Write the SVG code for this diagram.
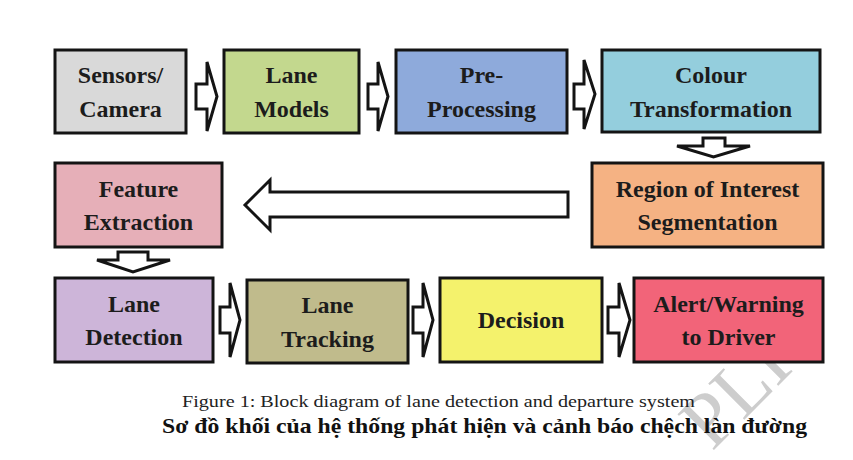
<svg xmlns="http://www.w3.org/2000/svg" width="853" height="460" viewBox="0 0 853 460">
<style>
.box{stroke:#141414;stroke-width:3}
.lbl{font-family:"Liberation Serif","DejaVu Serif","Times New Roman",serif;font-weight:bold;font-size:24px;fill:#1c1c1c;text-anchor:middle}
.arr{fill:#ffffff;stroke:#141414;stroke-width:3;stroke-linejoin:miter}
.cap{font-family:"Liberation Serif","DejaVu Serif",serif;font-size:16px;fill:#222}
.vn{font-family:"Liberation Serif","DejaVu Serif",serif;font-weight:bold;font-size:22px;fill:#111}
.wm{font-family:"Liberation Serif","DejaVu Serif",serif;font-size:78px;fill:#cdcdcd}
</style>
<rect width="853" height="460" fill="#ffffff"/>
<g id="watermark">
<text class="wm" transform="translate(712,452) rotate(-45)">PLI</text>
</g>
<g id="connectors">
<path class="arr" d="M196,84 H207 V62 L217,96.5 L207,131 V109 H196 Z"/>
<path class="arr" d="M368,84 H378 V62 L388,96.5 L378,131 V109 H368 Z"/>
<path class="arr" d="M574,84 H584 V60 L595,94 L584,129 V109 H574 Z"/>
<path class="arr" d="M703,138 H725 V146 H750 L713.5,157 L677,146 H703 Z"/>
<path class="arr" d="M568,192 V217 H270 V230 L245,205 L270,180 V192 Z"/>
<path class="arr" d="M118,252 H148 V260 H170 L133,272 L97,260 H118 Z"/>
<path class="arr" d="M220,307 H230 V283 L240,320 L230,357 V333 H220 Z"/>
<path class="arr" d="M413,307 H423 V283 L433,320 L423,357 V333 H413 Z"/>
<path class="arr" d="M608,307 H619 V283 L630,320 L619,357 V333 H608 Z"/>
</g>
<g id="sensors">
<rect class="box" x="55" y="50" width="131" height="83" fill="#d9d9d9"/>
<text class="lbl" x="120.5" y="83">Sensors/</text>
<text class="lbl" x="120.5" y="116.5">Camera</text>
</g>
<g id="lane-models">
<rect class="box" x="224" y="50" width="135" height="83" fill="#c3d88e"/>
<text class="lbl" x="291.5" y="83">Lane</text>
<text class="lbl" x="291.5" y="116.5">Models</text>
</g>
<g id="pre-processing">
<rect class="box" x="396" y="50" width="171" height="83" fill="#8eaadb"/>
<text class="lbl" x="481.5" y="83">Pre-</text>
<text class="lbl" x="481.5" y="116.5">Processing</text>
</g>
<g id="colour-transformation">
<rect class="box" x="602" y="50" width="218" height="82" fill="#94cedd"/>
<text class="lbl" x="711" y="83">Colour</text>
<text class="lbl" x="711" y="116.5">Transformation</text>
</g>
<g id="feature-extraction">
<rect class="box" x="55" y="163" width="167" height="84" fill="#e6afb8"/>
<text class="lbl" x="138.5" y="197">Feature</text>
<text class="lbl" x="138.5" y="230">Extraction</text>
</g>
<g id="roi-segmentation">
<rect class="box" x="592" y="163" width="231" height="84" fill="#f5b283"/>
<text class="lbl" x="707.5" y="197">Region of Interest</text>
<text class="lbl" x="707.5" y="230">Segmentation</text>
</g>
<g id="lane-detection">
<rect class="box" x="55" y="278" width="158" height="84" fill="#cdb5d9"/>
<text class="lbl" x="134" y="311.5">Lane</text>
<text class="lbl" x="134" y="345">Detection</text>
</g>
<g id="lane-tracking">
<rect class="box" x="247" y="280" width="161" height="83" fill="#c0bb8c"/>
<text class="lbl" x="327.5" y="313">Lane</text>
<text class="lbl" x="327.5" y="346.5">Tracking</text>
</g>
<g id="decision">
<rect class="box" x="440" y="278" width="162" height="84" fill="#f4f26c"/>
<text class="lbl" x="521" y="328">Decision</text>
</g>
<g id="alert">
<rect class="box" x="634" y="278" width="189" height="84" fill="#f26479"/>
<text class="lbl" x="728.5" y="311.5">Alert/Warning</text>
<text class="lbl" x="728.5" y="345">to Driver</text>
</g>
<g id="captions">
<text class="cap" x="182" y="407" textLength="513" lengthAdjust="spacingAndGlyphs">Figure 1: Block diagram of lane detection and departure system</text>
<text class="vn" x="162" y="433" textLength="645" lengthAdjust="spacingAndGlyphs">Sơ đồ khối của hệ thống phát hiện và cảnh báo chệch làn đường</text>
</g>
</svg>
